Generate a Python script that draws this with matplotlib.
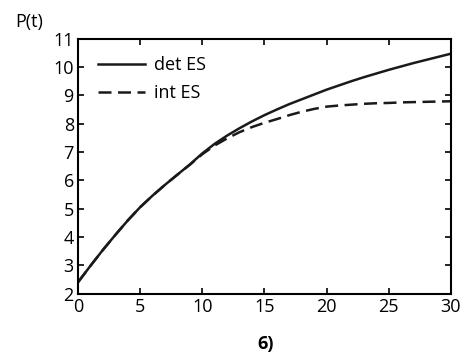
import matplotlib
matplotlib.use("Agg")
import matplotlib.pyplot as plt

plt.rcParams['font.family'] = ['Open Sans', 'DejaVu Sans']

# values
t = list(range(0, 31))
det_es = [2.4, 2.98, 3.54, 4.07, 4.58, 5.05, 5.46, 5.84, 6.2, 6.56, 6.95,
          7.29, 7.58, 7.84, 8.08, 8.3, 8.5, 8.69, 8.86, 9.03, 9.2,
          9.35, 9.5, 9.64, 9.77, 9.9, 10.02, 10.14, 10.25, 10.36, 10.47]
int_es = [2.4, 2.98, 3.54, 4.07, 4.58, 5.05, 5.46, 5.84, 6.2, 6.55, 6.92,
          7.23, 7.48, 7.7, 7.88, 8.03, 8.16, 8.3, 8.42, 8.52, 8.6,
          8.64, 8.67, 8.7, 8.72, 8.73, 8.75, 8.76, 8.77, 8.78, 8.79]

xticks = [0, 5, 10, 15, 20, 25, 30]
yticks = [2, 3, 4, 5, 6, 7, 8, 9, 10, 11]

fig = plt.figure(figsize=(4.63, 3.58), dpi=100)
ax = fig.add_axes([0.1685, 0.18, 0.8055, 0.712])

ax.plot(t, det_es, color='#1a1a1a', lw=1.8, label='det ES')
ax.plot(t, int_es, color='#1a1a1a', lw=1.8, dashes=(5.2, 2.6), label='int ES')

ax.set_xlim(0, 30)
ax.set_ylim(2, 11)
ax.set_xticks(xticks)
ax.set_yticks(yticks)
ax.tick_params(direction='in', top=True, right=True, length=4, width=1.2,
               labelsize=13, pad=3)
for s in ax.spines.values():
    s.set_linewidth(1.5)

leg = ax.legend(loc='upper left', frameon=False, fontsize=13, handlelength=2.6,
                handletextpad=0.5, borderaxespad=0.0, labelspacing=0.55,
                borderpad=0.4, bbox_to_anchor=(0.035, 0.96))

fig.text(0.032, 0.925, 'P(t)', fontsize=13)
fig.text(0.573, 0.025, '6)', fontsize=13, fontweight='bold', ha='center')

fig.savefig('out.png', dpi=100)
